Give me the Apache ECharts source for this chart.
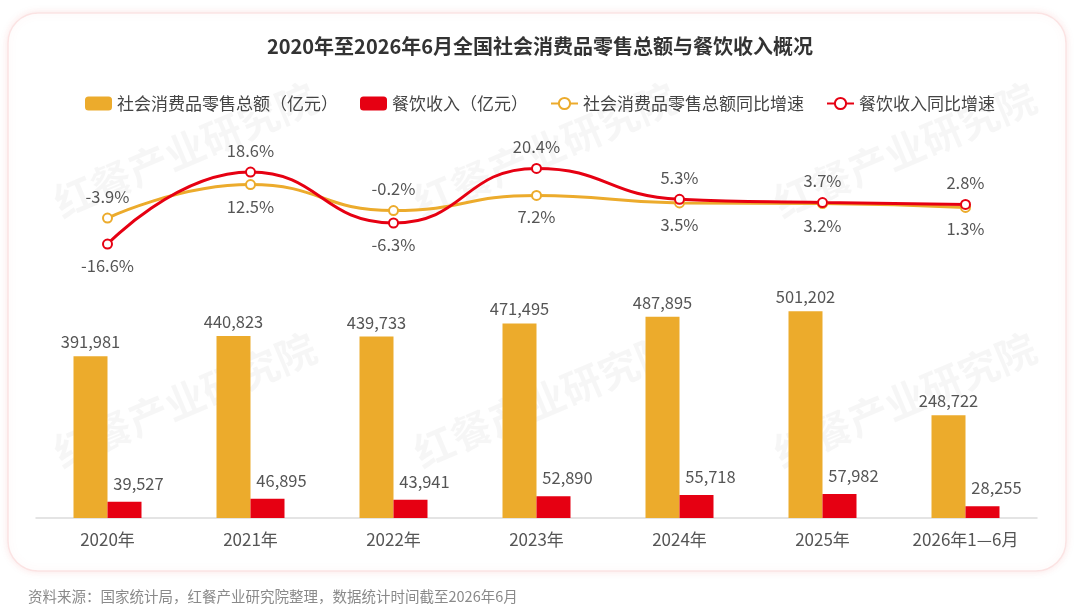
<!DOCTYPE html>
<html>
<head>
<meta charset="utf-8">
<script src="https://cdn.jsdelivr.net/npm/echarts@6/dist/echarts.min.js"></script>
<style>
  html, body { margin: 0; padding: 0; background: #fff; }
  #chart { width: 1080px; height: 614px; }
</style>
</head>
<body>
<div id="chart"></div>
<script>
// 数据
const categories = ['2020年', '2021年', '2022年', '2023年', '2024年', '2025年', '2026年1—6月']
const retailTotal = [391981, 440823, 439733, 471495, 487895, 501202, 248722]
const cateringIncome = [39527, 46895, 43941, 52890, 55718, 57982, 28255]
const retailGrowth = [-3.9, 12.5, -0.2, 7.2, 3.5, 3.2, 1.3]
const cateringGrowth = [-16.6, 18.6, -6.3, 20.4, 5.3, 3.7, 2.8]
// 标签在线上方还是下方
const retailLabelPos = ['top', 'bottom', 'top', 'bottom', 'bottom', 'bottom', 'bottom']
const cateringLabelPos = ['bottom', 'top', 'bottom', 'top', 'top', 'top', 'top']

const ORANGE = '#ECAB2C'
const RED = '#E60012'
const FONT = '"Noto Sans CJK SC", "Noto Sans", sans-serif'

let chart = echarts.init(document.getElementById('chart'))

function fmt(v) {
  return v.toString().replace(/\B(?=(\d{3})+(?!\d))/g, ',')
}

// 水印
let marks = []
const markPos = [[185, 150], [545, 150], [905, 150], [185, 400], [545, 400], [905, 400]]
markPos.forEach(p => {
  marks.push({
    type: 'text',
    x: p[0], y: p[1],
    rotation: 0.4,
    z: 0,
    style: {
      text: '红餐产业研究院',
      font: 'bold 40px ' + FONT,
      fill: 'rgba(0,0,0,0.035)',
      align: 'center',
      verticalAlign: 'middle'
    }
  })
})

chart.setOption({
  textStyle: { fontFamily: FONT },
  graphic: [
    {
      type: 'rect',
      z: -10,
      shape: { x: 8, y: 13, width: 1058, height: 558, r: 30 },
      style: {
        fill: '#fff',
        stroke: '#fbe3e3',
        lineWidth: 1.5,
        shadowBlur: 10,
        shadowColor: 'rgba(230,0,18,0.10)'
      }
    },
    ...marks,
    {
      type: 'text',
      left: 28, top: 589,
      style: {
        text: '资料来源：国家统计局，红餐产业研究院整理，数据统计时间截至2026年6月',
        font: '14.5px ' + FONT,
        fill: '#8a8a8a'
      }
    }
  ],
  title: {
    text: '2020年至2026年6月全国社会消费品零售总额与餐饮收入概况',
    left: 'center',
    top: 31,
    textStyle: { fontSize: 20, fontWeight: 'bold', color: '#333' }
  },
  legend: {
    top: 90,
    left: 'center',
    itemWidth: 27,
    itemHeight: 14,
    itemGap: 22,
    textStyle: { fontSize: 17, color: '#444' },
    data: ['社会消费品零售总额（亿元）', '餐饮收入（亿元）', '社会消费品零售总额同比增速', '餐饮收入同比增速']
  },
  grid: [
    { left: 36, right: 43, top: 159, height: 92 },
    { left: 36, right: 43, top: 291, bottom: 96 }
  ],
  xAxis: [
    { type: 'category', gridIndex: 0, data: categories, show: false },
    {
      type: 'category',
      gridIndex: 1,
      data: categories,
      axisTick: { show: false },
      axisLine: { lineStyle: { color: '#dcdcdc', width: 1.5 } },
      axisLabel: { fontSize: 17, color: '#555', margin: 13 }
    }
  ],
  yAxis: [
    { type: 'value', gridIndex: 0, min: -20, max: 25, show: false },
    { type: 'value', gridIndex: 1, min: 0, max: 550000, show: false }
  ],
  series: [
    {
      name: '社会消费品零售总额（亿元）',
      type: 'bar',
      xAxisIndex: 1, yAxisIndex: 1,
      barWidth: 34,
      barGap: '0%',
      itemStyle: { color: ORANGE },
      label: {
        show: true,
        position: 'top',
        distance: 6,
        fontSize: 16.5,
        color: '#555',
        formatter: p => fmt(p.value)
      },
      data: retailTotal
    },
    {
      name: '餐饮收入（亿元）',
      type: 'bar',
      xAxisIndex: 1, yAxisIndex: 1,
      barWidth: 34,
      itemStyle: { color: RED },
      label: {
        show: true,
        position: 'top',
        distance: 10,
        offset: [14, 0],
        fontSize: 16.5,
        color: '#555',
        formatter: p => fmt(p.value)
      },
      data: cateringIncome
    },
    {
      name: '社会消费品零售总额同比增速',
      type: 'line',
      xAxisIndex: 0, yAxisIndex: 0,
      smooth: true,
      symbol: 'emptyCircle',
      symbolSize: 9,
      lineStyle: { color: ORANGE, width: 3 },
      itemStyle: { color: ORANGE, borderWidth: 2.5 },
      label: { show: true, fontSize: 16.5, color: '#555', distance: 8, formatter: p => p.value + '%' },
      data: retailGrowth.map((v, i) => ({ value: v, label: { position: retailLabelPos[i] } }))
    },
    {
      name: '餐饮收入同比增速',
      type: 'line',
      xAxisIndex: 0, yAxisIndex: 0,
      smooth: true,
      symbol: 'emptyCircle',
      symbolSize: 9,
      lineStyle: { color: RED, width: 3 },
      itemStyle: { color: RED, borderWidth: 2.5 },
      label: { show: true, fontSize: 16.5, color: '#555', distance: 8, formatter: p => p.value + '%' },
      data: cateringGrowth.map((v, i) => ({ value: v, label: { position: cateringLabelPos[i] } }))
    }
  ]
})

window.addEventListener('resize', function () { chart.resize() }, false)
</script>
</body>
</html>
